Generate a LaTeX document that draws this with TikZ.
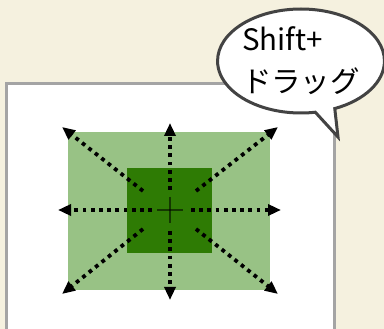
\documentclass[tikz,border=0pt]{standalone}
\usepackage{fontspec}
\setmainfont{Noto Sans CJK JP}
\usetikzlibrary{arrows.meta,shapes.callouts}
\definecolor{bgbeige}{HTML}{F5F1DF}
\definecolor{lightgrn}{HTML}{98C285}
\definecolor{darkgrn}{HTML}{2E7B04}
\definecolor{panelgray}{HTML}{A4A4A4}
\definecolor{bubblegray}{HTML}{434343}
\tikzset{
  dotarrow/.style={line width=3.8pt, line cap=butt, dash pattern=on 3.8pt off 4.4pt,
    -{Triangle[length=13pt,width=11pt]}},
  cross/.style={line width=1.4pt, black, opacity=0.55},
  bubble/.style={ellipse callout, draw=bubblegray, line width=3pt, fill=white,
    minimum width=156pt, minimum height=104pt, inner sep=0pt,
    callout pointer arc=14, font=\fontsize{29.5}{42}\selectfont, align=left},
}
\begin{document}
\begin{tikzpicture}[x=1pt,y=-1pt]
\useasboundingbox (0,0) rectangle (384,329);
\fill[bgbeige] (0,0) rectangle (384,329);
% panel
\fill[white] (5,84) rectangle (334,329);
\draw[panelgray, line width=3pt] (6,331) -- (6,84) -- (334,84) -- (334,331);
% rectangles
\node[fill=lightgrn, minimum width=202pt, minimum height=158pt, inner sep=0pt] (outer) at (169,211) {};
\node[fill=darkgrn, minimum width=85pt, minimum height=85pt, inner sep=0pt] (inner) at (169.5,210.5) {};
\coordinate (c) at (170,210);
% tips
\coordinate (tN) at (170,123);
\coordinate (tS) at (170,300);
\coordinate (tW) at (58,210);
\coordinate (tE) at (281,210);
\coordinate (tNW) at (62,127);
\coordinate (tNE) at (278,127);
\coordinate (tSW) at (62,294);
\coordinate (tSE) at (278,294);
% starts
\coordinate (sN) at (170,190);
\coordinate (sS) at (170,231);
\coordinate (sW) at (152,210);
\coordinate (sE) at (191,210);
\coordinate (sNW) at (143,191);
\coordinate (sNE) at (196,191);
\coordinate (sSW) at (143,229);
\coordinate (sSE) at (196,229);
\foreach \d in {N,S,W,E,NW,NE,SW,SE}
  \draw[dotarrow] (s\d) -- (t\d);
% crosshair
\draw[cross] (157,210) -- (183,210);
\draw[cross] (170,197) -- (170,223);
% bubble
\node[bubble, callout absolute pointer={(338,137)}] (bub) at (301,61) {Shift+\\ドラッグ};
\end{tikzpicture}
\end{document}
